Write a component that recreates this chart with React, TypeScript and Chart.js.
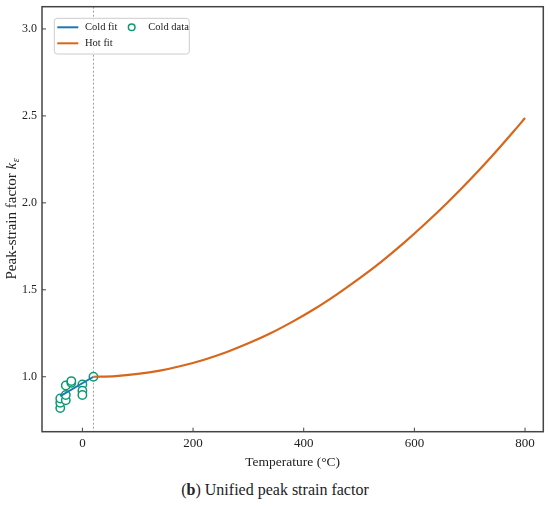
import { useEffect, useRef } from 'react';
import { Chart, registerables } from 'chart.js';

Chart.register(...registerables);

// reference temperature (dotted line) in °C
const REF_TEMP = 20;

const coldFitTemp = [-40, 20];
const coldFitK = [0.888, 1.0];

const hotFitTemp = [20, 60, 100, 140, 180, 220, 260, 300, 340, 380, 420, 460, 500, 540, 580, 620, 660, 700, 740, 780, 800];
const hotFitK = [1.0, 1.004, 1.016, 1.035, 1.063, 1.098, 1.141, 1.192, 1.25, 1.317, 1.391, 1.474, 1.564, 1.661, 1.767, 1.881, 2.002, 2.131, 2.268, 2.413, 2.488];

const coldDataTemp = [-40, -40, -40, -30, -30, -30, -20, -20, 0, 0, 0, 20];
const coldDataK = [0.82, 0.85, 0.875, 0.865, 0.895, 0.95, 0.965, 0.975, 0.955, 0.92, 0.895, 1.0];

const xTicks = [0, 200, 400, 600, 800];
const yTicks = [1.0, 1.5, 2.0, 2.5, 3.0];

const SERIF = '"Liberation Serif", "Times New Roman", serif';
const COLD = '#1f77b4';
const HOT = '#d8661b';
const DATA = '#0a9b6f';
const AXIS = '#444444';
const TEXT = '#222222';

const pts = (xs: number[], ys: number[]) => xs.map((x, i) => ({ x, y: ys[i] }));

const decor = {
    id: 'decor',
    beforeDatasetsDraw(chart: any) {
        const { ctx, chartArea: a } = chart;
        const px = chart.scales.x.getPixelForValue(REF_TEMP);
        ctx.save();
        ctx.strokeStyle = '#a0a0a0';
        ctx.lineWidth = 1;
        ctx.setLineDash([2, 2]);
        ctx.beginPath();
        ctx.moveTo(px, a.top);
        ctx.lineTo(px, a.bottom);
        ctx.stroke();
        ctx.restore();
    },
    afterDraw(chart: any) {
        const { ctx, chartArea: a, scales: { x, y } } = chart;
        ctx.save();

        // axes box + inward ticks
        ctx.strokeStyle = AXIS;
        ctx.lineWidth = 1.5;
        ctx.strokeRect(a.left, a.top, a.right - a.left, a.bottom - a.top);
        ctx.lineWidth = 1;
        ctx.beginPath();
        xTicks.forEach(v => {
            const p = x.getPixelForValue(v);
            ctx.moveTo(p, a.bottom);
            ctx.lineTo(p, a.bottom - 4);
        });
        yTicks.forEach(v => {
            const p = y.getPixelForValue(v);
            ctx.moveTo(a.left, p);
            ctx.lineTo(a.left + 4, p);
        });
        ctx.stroke();

        // y title with italic k and subscript epsilon
        const main = 'Peak-strain factor ';
        ctx.fillStyle = TEXT;
        ctx.textBaseline = 'alphabetic';
        ctx.font = `15px ${SERIF}`;
        const w1 = ctx.measureText(main).width;
        ctx.font = `italic 15px ${SERIF}`;
        const w2 = ctx.measureText('k').width;
        ctx.font = `italic 10px ${SERIF}`;
        const w3 = ctx.measureText('ε').width;
        const total = w1 + w2 + w3;
        ctx.save();
        ctx.translate(16, (a.top + a.bottom) / 2);
        ctx.rotate(-Math.PI / 2);
        let cx = -total / 2;
        ctx.textAlign = 'left';
        ctx.font = `15px ${SERIF}`;
        ctx.fillText(main, cx, 0);
        cx += w1;
        ctx.font = `italic 15px ${SERIF}`;
        ctx.fillText('k', cx, 0);
        cx += w2;
        ctx.font = `italic 10px ${SERIF}`;
        ctx.fillText('ε', cx + 0.5, 3);
        ctx.restore();

        // legend box
        const ds = chart.data.datasets;
        const bx = a.left + 12.3;
        const by = a.top + 11.6;
        ctx.fillStyle = 'rgba(255,255,255,0.85)';
        ctx.strokeStyle = '#cccccc';
        ctx.lineWidth = 1;
        ctx.beginPath();
        ctx.roundRect(bx, by, 135, 35.7, 3);
        ctx.fill();
        ctx.stroke();

        const r1 = by + 9;
        const r2 = by + 25;
        ctx.lineWidth = 2;
        ctx.strokeStyle = ds[0].borderColor;
        ctx.beginPath();
        ctx.moveTo(bx + 3, r1);
        ctx.lineTo(bx + 24, r1);
        ctx.stroke();
        ctx.strokeStyle = ds[1].borderColor;
        ctx.beginPath();
        ctx.moveTo(bx + 3, r2);
        ctx.lineTo(bx + 24, r2);
        ctx.stroke();
        ctx.strokeStyle = ds[2].borderColor;
        ctx.lineWidth = 1.5;
        ctx.beginPath();
        ctx.arc(bx + 77.4, r1, 3.3, 0, Math.PI * 2);
        ctx.stroke();

        ctx.fillStyle = TEXT;
        ctx.font = `10.5px ${SERIF}`;
        ctx.textAlign = 'left';
        ctx.textBaseline = 'middle';
        ctx.fillText(ds[0].label, bx + 30.7, r1);
        ctx.fillText(ds[1].label, bx + 30.7, r2);
        ctx.fillText(ds[2].label, bx + 94, r1);

        ctx.restore();
    },
};

function PeakStrainChart() {
    const canvasRef = useRef<HTMLCanvasElement>(null);
    const chartRef = useRef<Chart | null>(null);

    useEffect(() => {
        if (!canvasRef.current) return;
        chartRef.current?.destroy();

        chartRef.current = new Chart(canvasRef.current, {
            type: 'scatter',
            data: {
                datasets: [
                    {
                        label: 'Cold fit',
                        data: pts(coldFitTemp, coldFitK),
                        showLine: true,
                        borderColor: COLD,
                        backgroundColor: COLD,
                        borderWidth: 2,
                        pointRadius: 0,
                    },
                    {
                        label: 'Hot fit',
                        data: pts(hotFitTemp, hotFitK),
                        showLine: true,
                        borderColor: HOT,
                        backgroundColor: HOT,
                        borderWidth: 2.2,
                        pointRadius: 0,
                        cubicInterpolationMode: 'monotone',
                    },
                    {
                        label: 'Cold data',
                        data: pts(coldDataTemp, coldDataK),
                        borderColor: DATA,
                        backgroundColor: '#ffffff',
                        pointRadius: 4.2,
                        pointBorderWidth: 1.5,
                    },
                ],
            } as any,
            options: {
                animation: false,
                responsive: false,
                layout: { padding: { top: 6.7, right: 6.7, left: 0, bottom: 0 } },
                plugins: {
                    legend: { display: false },
                    tooltip: { enabled: false },
                },
                scales: {
                    x: {
                        type: 'linear',
                        min: -73,
                        max: 833,
                        afterBuildTicks: (s: any) => { s.ticks = xTicks.map(v => ({ value: v })); },
                        afterFit: (s: any) => { s.height = 43.3; s.paddingLeft = 0; s.paddingRight = 0; },
                        grid: { display: false, drawTicks: false },
                        border: { display: false },
                        ticks: { font: { family: SERIF, size: 13 }, color: TEXT, padding: 4 },
                        title: {
                            display: true,
                            text: 'Temperature (°C)',
                            font: { family: SERIF, size: 13.5 },
                            color: TEXT,
                            padding: { top: 4, bottom: 4 },
                        },
                    },
                    y: {
                        type: 'linear',
                        min: 0.684,
                        max: 3.128,
                        afterBuildTicks: (s: any) => { s.ticks = yTicks.map(v => ({ value: v })); },
                        afterFit: (s: any) => { s.width = 42; s.paddingTop = 0; s.paddingBottom = 0; },
                        grid: { display: false, drawTicks: false },
                        border: { display: false },
                        ticks: {
                            font: { family: SERIF, size: 12 },
                            color: TEXT,
                            padding: 5,
                            callback: (v: any) => Number(v).toFixed(1),
                        },
                    },
                },
            },
            plugins: [decor],
        });

        return () => { chartRef.current?.destroy(); };
    }, []);

    return (
        <div style={{ position: 'absolute', left: 0, top: 0, width: 550, height: 508, background: '#fff' }}>
            <canvas ref={canvasRef} width={550} height={475} style={{ display: 'block', width: 550, height: 475 }} />
            <div
                style={{
                    width: 550,
                    height: 33,
                    lineHeight: '30px',
                    textAlign: 'center',
                    fontFamily: SERIF,
                    fontSize: 16,
                    color: TEXT,
                }}
            >
                (<b>b</b>) Unified peak strain factor
            </div>
        </div>
    );
}

export default function App() {
    return <PeakStrainChart />;
}
